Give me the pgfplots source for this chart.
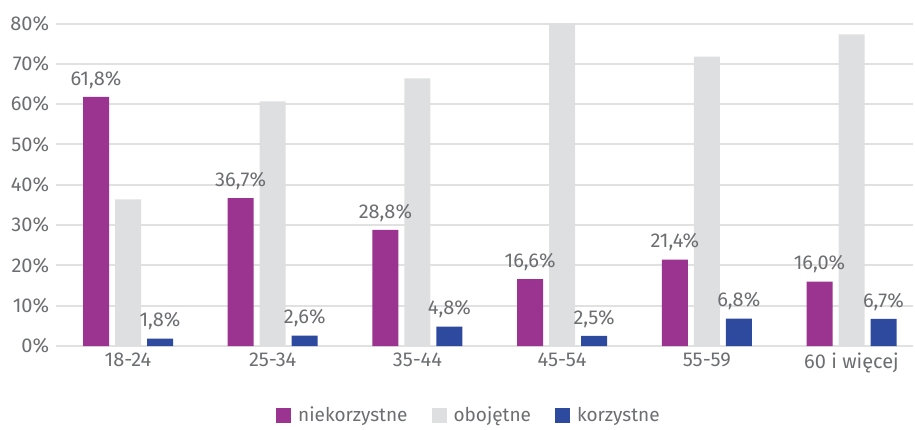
\documentclass[border=0pt]{standalone}
\usepackage{pgfplots}
\pgfplotsset{compat=1.18}
\usepackage{fontspec}
\setmainfont{Fira Sans}
\definecolor{cpurple}{HTML}{9B3391}
\definecolor{cgray}{HTML}{DEDFE1}
\definecolor{cblue}{HTML}{2E4A9E}
\definecolor{ctext}{HTML}{6D6E71}
\definecolor{cgrid}{HTML}{E1E1E1}
\begin{document}
\begin{tikzpicture}[x=1pt,y=1pt]
\begin{axis}[
  at={(55.65pt,83pt)}, anchor=south west,
  scale only axis, width=857.35pt, height=322.5pt,
  xmin=-0.5, xmax=5.425, ymin=0, ymax=80,
  ybar=6pt, bar width=26pt,
  xtick={0,1,2,3,4,5},
  xticklabels={18-24,25-34,35-44,45-54,55-59,60 i więcej},
  ytick={0,10,20,30,40,50,60,70,80},
  yticklabel={\pgfmathprintnumber{\tick}\%},
  /pgf/number format/assume math mode=true,
  axis line style={draw=none},
  major tick length=0pt,
  ymajorgrids=true,
  major grid style={color=cgrid, line width=2pt},
  tick label style={font=\fontsize{20}{23}\selectfont, text=ctext},
  yticklabel style={xshift=-3pt},
  xticklabel style={yshift=-3pt},
  every axis plot/.append style={draw=none},
  nodes near coords style={font=\fontsize{20}{23}\selectfont, text=ctext, anchor=south, yshift=5pt,
    /pgf/number format/.cd, fixed, fixed zerofill, precision=1, use comma, assume math mode=true},
  legend columns=3,
  legend style={draw=none, fill=none, font=\fontsize{19}{22}\selectfont, text=ctext,
    at={(0.482,-0.214)}, anchor=center,
    /tikz/every odd column/.append style={column sep=5pt},
    /tikz/every even column/.append style={column sep=22pt}},
  legend image code/.code={\fill[#1] (0pt,-7.5pt) rectangle (15pt,7.5pt);},
]
\addplot[fill=cpurple, nodes near coords={\pgfmathprintnumber{\pgfplotspointmeta}\%}]
  coordinates {(0,61.8)(1,36.7)(2,28.8)(3,16.6)(4,21.4)(5,16.0)};
\addlegendentry{niekorzystne}
\addplot[fill=cgray]
  coordinates {(0,36.4)(1,60.7)(2,66.4)(3,80.9)(4,71.8)(5,77.3)};
\addlegendentry{obojętne}
\addplot[fill=cblue, nodes near coords={\pgfmathprintnumber{\pgfplotspointmeta}\%}]
  coordinates {(0,1.8)(1,2.6)(2,4.8)(3,2.5)(4,6.8)(5,6.7)};
\addlegendentry{korzystne}
\end{axis}
\pgfresetboundingbox
\useasboundingbox (0,0) rectangle (915,429);
\end{tikzpicture}
\end{document}
